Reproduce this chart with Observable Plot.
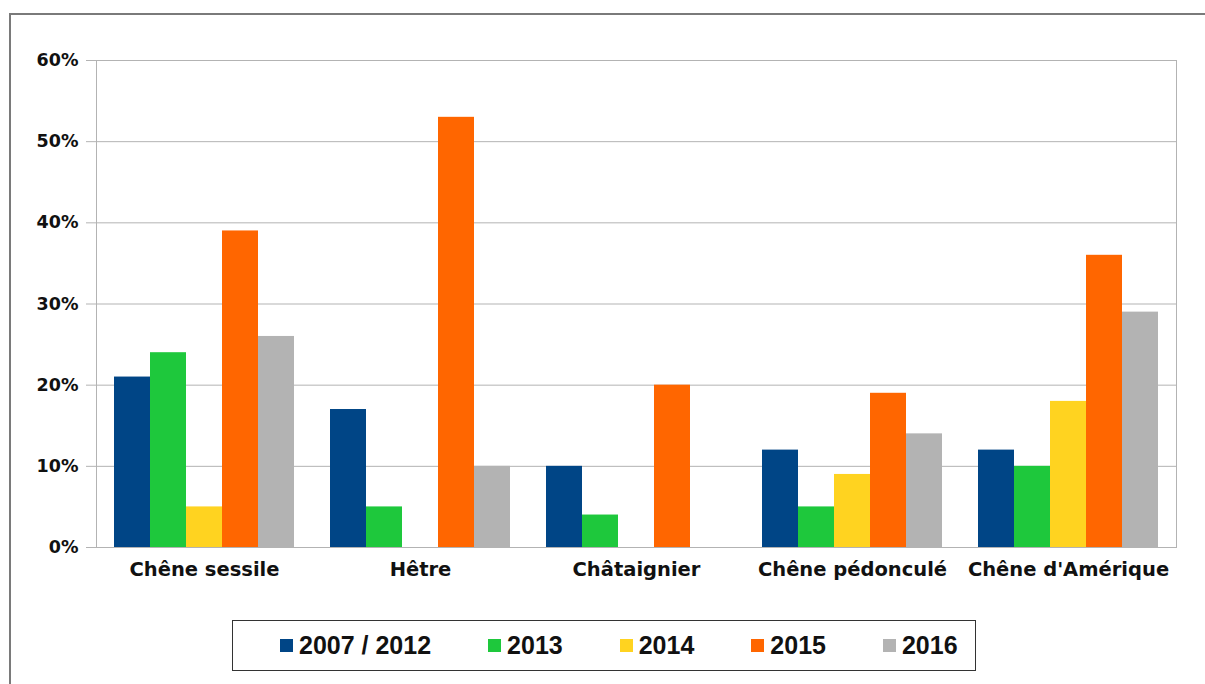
<!DOCTYPE html>
<html>
<head>
<meta charset="utf-8">
<script src="https://cdn.jsdelivr.net/npm/d3@7"></script>
<script src="https://cdn.jsdelivr.net/npm/@observablehq/plot@0.6"></script>
<style>
  html, body { margin: 0; padding: 0; background: #fff; }
  #page { position: relative; width: 1205px; height: 684px; overflow: hidden; background: #fff; }
  #outer { position: absolute; left: 9px; top: 13px; right: -20px; bottom: -20px;
           border-top: 2px solid #7a7a7a; border-left: 2px solid #7a7a7a; }
  #chart { position: absolute; left: 0; top: 0; }
  #legend { position: absolute; left: 232px; top: 620px; width: 744px; height: 51px;
            border: 1.5px solid #333; display: flex; align-items: center; justify-content: flex-start;
            padding-left: 47px; gap: 57px; font-family: "Liberation Sans", Arial, sans-serif;
            font-weight: bold; font-size: 25px; color: #111; box-sizing: border-box; white-space: nowrap; }
  .item { display: flex; align-items: center; gap: 6px; white-space: nowrap; }
  .sw { width: 13px; height: 13px; display: inline-block; flex: none; }
</style>
</head>
<body>
<div id="page">
  <div id="outer"></div>
  <div id="chart"></div>
  <div id="legend"></div>
</div>
<script>
const species = ["Chêne sessile", "Hêtre", "Châtaignier", "Chêne pédonculé", "Chêne d'Amérique"];
const years = ["2007 / 2012", "2013", "2014", "2015", "2016"];
const v2007_2012 = [21, 17, 10, 12, 12];
const v2013 = [24, 5, 4, 5, 10];
const v2014 = [5, 0, 0, 9, 18];
const v2015 = [39, 53, 20, 19, 36];
const v2016 = [26, 10, 0, 14, 29];
const colors = ["#004586", "#1ec83c", "#ffd320", "#ff6600", "#b3b3b3"];
const yTicks = [0, 10, 20, 30, 40, 50, 60];

const series = [v2007_2012, v2013, v2014, v2015, v2016];
const rows = [];
species.forEach((s, i) => years.forEach((y, j) => rows.push({species: s, year: y, value: series[j][i]})));

const chart = Plot.plot({
  width: 1205,
  height: 600,
  marginLeft: 94,
  marginRight: 27,
  marginTop: 60,
  marginBottom: 53,
  style: {fontFamily: "DejaVu Sans, sans-serif", background: "transparent", overflow: "visible"},
  fx: {domain: species, padding: 0, label: null},
  x: {domain: years, paddingInner: 0, paddingOuter: 0.5, axis: null},
  y: {domain: [0, 60], axis: null},
  color: {domain: years, range: colors},
  marks: [
    Plot.gridY(yTicks, {stroke: "#b3b3b3", strokeOpacity: 1}),
    Plot.barY(rows, {fx: "species", x: "year", y: "value", fill: "year"}),
    Plot.frame({facet: "super", stroke: "#b3b3b3"}),
    Plot.axisY(yTicks, {tickSize: 10, tickPadding: 8, stroke: "#b3b3b3", fill: "#111",
      fontSize: 17.5, fontWeight: "bold", tickFormat: d => d + "%", label: null}),
    Plot.axisFx({anchor: "bottom", tickSize: 0, tickPadding: 15, fontSize: 19.5,
      fontWeight: "bold", fill: "#111", label: null})
  ]
});
document.getElementById("chart").appendChild(chart);

const legend = document.getElementById("legend");
years.forEach((y, i) => {
  const it = document.createElement("div");
  it.className = "item";
  const sw = document.createElement("span");
  sw.className = "sw";
  sw.style.background = colors[i];
  const t = document.createElement("span");
  t.textContent = y;
  it.appendChild(sw);
  it.appendChild(t);
  legend.appendChild(it);
});
</script>
</body>
</html>
